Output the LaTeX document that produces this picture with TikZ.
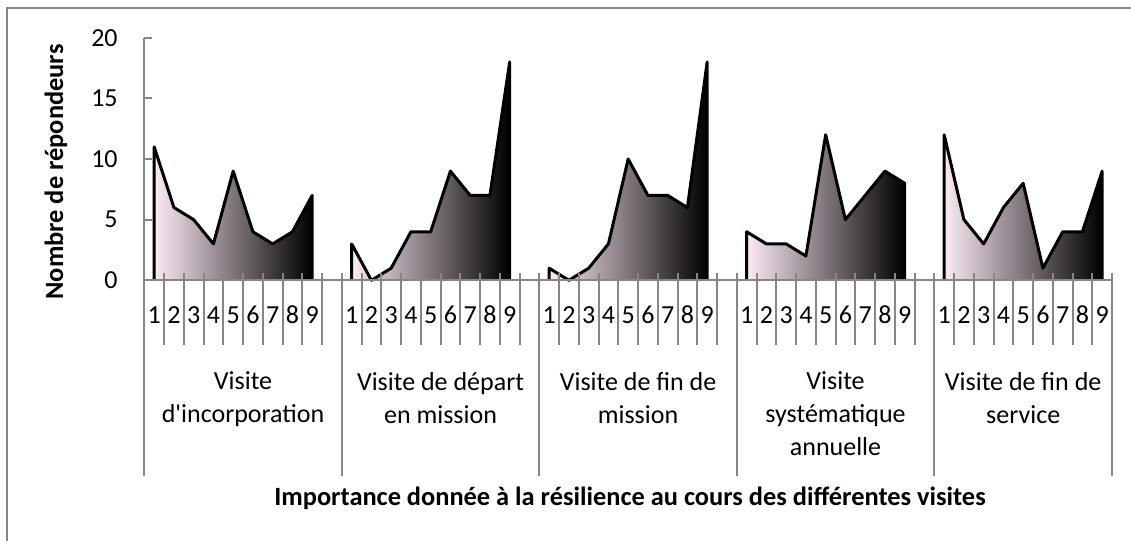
\documentclass[tikz,border=0pt]{standalone}
\usepackage{fontspec}
\setmainfont{Carlito}[Ligatures=TeXOff]
\usetikzlibrary{positioning}
\definecolor{axisgray}{RGB}{134,134,134}
\definecolor{lightpink}{RGB}{252,234,245}
\definecolor{mauve}{RGB}{172,152,166}

\begin{document}
\begin{tikzpicture}[x=0.5pt,y=-0.5pt,
  axis/.style={draw=axisgray,line width=1pt},
  area/.style={left color=lightpink,middle color=mauve,right color=black},
  outline/.style={draw=black,line width=1.5pt,line join=round},
  lbl/.style={font=\fontsize{13}{16.5}\selectfont,inner sep=0pt},
  ttl/.style={font=\fontsize{13.2}{15}\selectfont\bfseries,inner sep=0pt}]
\useasboundingbox (0,0) rectangle (1131,541);
\draw[axis] (7,541) -- (7,7.5) -- (1131,7.5);
\node[ttl,rotate=90] (ytitle) at (56,172) {Nombre de répondeurs};
\node[ttl] (xtitle) at (630,498) {Importance donnée à la résilience au cours des différentes visites};
\begin{scope}[shift={(72.15pt,-140.15pt)},x=9.875pt,y=6.065pt]
  % areas, one per visit
  \foreach \g/\vals in {0/{11,6,5,3,9,4,3,4,7},1/{3,0,1,4,4,9,7,7,18},
      2/{1,0,1,3,10,7,7,6,18},3/{4,3,3,2,12,5,7,9,8},4/{12,5,3,6,8,1,4,4,9}}{
    \shade[area] (10*\g+0.5,0) \foreach \v [count=\i] in \vals {-- (10*\g+\i-0.5,\v)} -- (10*\g+8.5,0) -- cycle;
    \draw[outline] (10*\g+0.5,0) \foreach \v [count=\i] in \vals {-- (10*\g+\i-0.5,\v)} -- (10*\g+8.5,0);
  }
  % axes
  \draw[axis] (0,20) -- (0,-16.13);
  \draw[axis] (0,0) -- (49,0);
  \foreach \t in {0,5,...,20}{
    \draw[axis] (0,\t) -- (0.39,\t);
    \node[lbl,anchor=east] (y\t) at (-1.33,\t) {\t};
  }
  \foreach \g in {0,...,4}
    \foreach \k in {1,...,9}{
      \draw[axis] (10*\g+\k,0.6) -- (10*\g+\k,-5.33);
      \node[lbl] (n\g\k) at (10*\g+\k-0.5,-2.86) {\k};
    }
  \foreach \t in {10,20,30,40,49}
    \draw[axis] (\t,0.6) -- (\t,-16.13);
  % visit names
  \node[lbl,align=center,anchor=north] (visA) at (5,-7.53) {Visite\\d'incorporation};
  \node[lbl,align=center,anchor=north] (visB) at (15,-7.53) {Visite de départ\\en mission};
  \node[lbl,align=center,anchor=north] (visC) at (25,-7.53) {Visite de fin de\\mission};
  \node[lbl,align=center,anchor=north] (visD) at (35,-7.53) {Visite\\systématique\\annuelle};
  \node[lbl,align=center,anchor=north] (visE) at (44.5,-7.53) {Visite de fin de\\service};
\end{scope}
\end{tikzpicture}
\end{document}
